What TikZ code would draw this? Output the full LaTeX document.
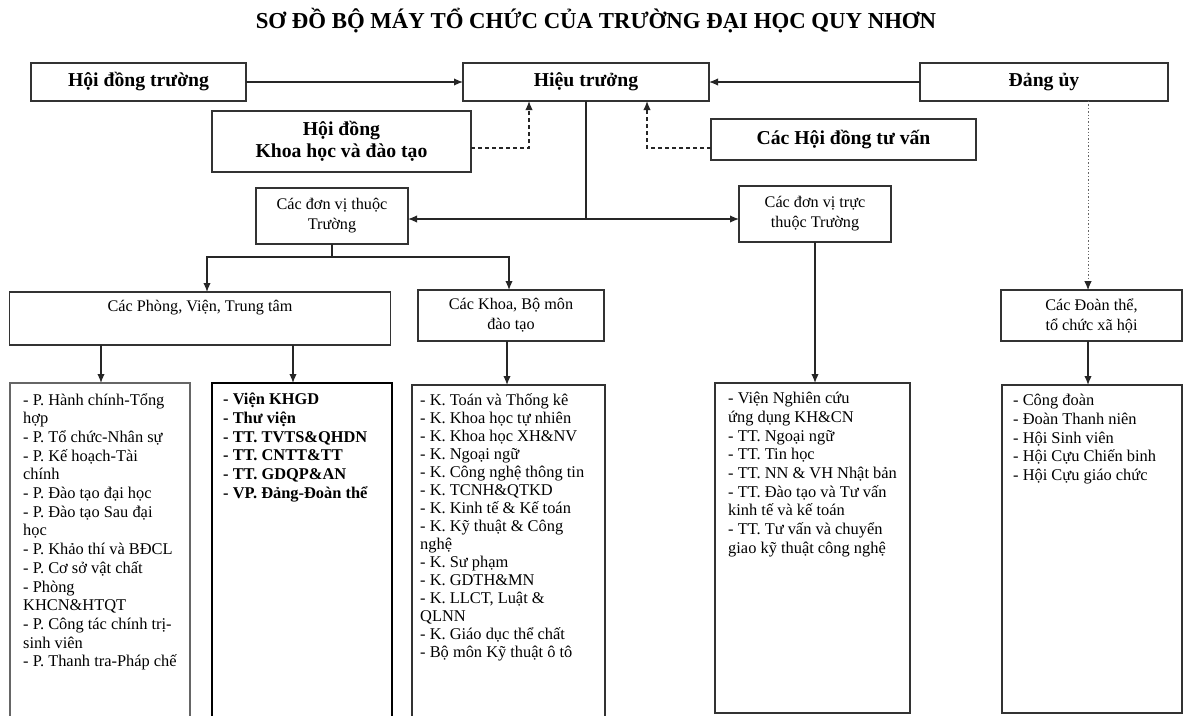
\documentclass[tikz,border=0pt]{standalone}
\usepackage{fontspec}
\setmainfont{Liberation Serif}
\usetikzlibrary{positioning, calc, arrows.meta}
\tikzstyle{Box} = [draw=black!80, line width=1.4pt, outer sep=0pt, inner sep=0pt,
align=center, font=\fontsize{16.2}{20}\selectfont]
\tikzstyle{Head} = [Box, font=\fontsize{19.7}{22}\selectfont\bfseries]
\tikzstyle{List} = [align=left, inner sep=0pt, font=\fontsize{16.4}{18.7}\selectfont]
\tikzstyle{Line} = [line width=1.4pt, color=black!85]
\tikzstyle{Arrow} = [
Line,
-{Latex[length=9pt,width=7.5pt]}]

\begin{document}
\begin{tikzpicture}[x=1pt, y=-1pt]
    \useasboundingbox (0,0) rectangle (1183,715);
    \node [font=\fontsize{22.8}{26}\selectfont\bfseries] (0) at (596,21)
        {SƠ ĐỒ BỘ MÁY TỔ CHỨC CỦA TRƯỜNG ĐẠI HỌC QUY NHƠN};

    \node [Head, minimum width=215pt, minimum height=38pt] (1) at (138.5,82) {Hội đồng trường};
    \node [Head, minimum width=246pt, minimum height=38pt] (2) at (586,82) {Hiệu trưởng};
    \node [Head, minimum width=248pt, minimum height=38pt] (3) at (1044,82) {Đảng ủy};
    \node [Head, minimum width=259pt, minimum height=61pt] (4) at (341.5,141.5) {Hội đồng\\Khoa học và đào tạo};
    \node [Head, minimum width=265pt, minimum height=41pt] (5) at (843.5,139.5) {Các Hội đồng tư vấn};
    \node [Box, minimum width=152pt, minimum height=56pt] (6) at (332,216) {Các đơn vị thuộc\\Trường};
    \node [Box, minimum width=152pt, minimum height=56pt] (7) at (815,214) {Các đơn vị trực\\thuộc Trường};
    \node [Box, minimum width=381pt, minimum height=53pt] (8) at (200,318.5) {Các Phòng, Viện, Trung tâm\\\strut};
    \node [Box, minimum width=186pt, minimum height=51pt] (9) at (511,315.5) {Các Khoa, Bộ môn\\đào tạo};
    \node [Box, minimum width=181pt, minimum height=51pt] (10) at (1091.5,315.5) {Các Đoàn thể,\\tổ chức xã hội};

    \node [Box, draw=black!60, anchor=north west, minimum width=180pt, minimum height=340pt] (11) at (10,383) {};
    \node [List, below right=10pt and 13pt of 11.north west] (11a) {- P. Hành chính-Tổng\\hợp\\- P. Tổ chức-Nhân sự\\- P. Kế hoạch-Tài\\chính\\- P. Đào tạo đại học\\- P. Đào tạo Sau đại\\học\\- P. Khảo thí và BĐCL\\- P. Cơ sở vật chất\\- Phòng\\KHCN\&HTQT\\- P. Công tác chính trị-\\sinh viên\\- P. Thanh tra-Pháp chế};
    \node [Box, draw=black, line width=2.4pt, anchor=north west, minimum width=180pt, minimum height=340pt] (12) at (212,383) {};
    \node [List, font=\fontsize{16.4}{18.7}\selectfont\bfseries, below right=10pt and 11pt of 12.north west] (12a) {- Viện KHGD\\- Thư viện\\- TT. TVTS\&QHDN\\- TT. CNTT\&TT\\- TT. GDQP\&AN\\- VP. Đảng-Đoàn thể};
    \node [Box, anchor=north west, minimum width=193pt, minimum height=340pt] (13) at (412,385) {};
    \node [List, font=\fontsize{16.4}{18}\selectfont, below right=8pt and 8pt of 13.north west] (13a) {- K. Toán và Thống kê\\- K. Khoa học tự nhiên\\- K. Khoa học XH\&NV\\- K. Ngoại ngữ\\- K. Công nghệ thông tin\\- K. TCNH\&QTKD\\- K. Kinh tế \& Kế toán\\- K. Kỹ thuật \& Công\\nghệ\\- K. Sư phạm\\- K. GDTH\&MN\\- K. LLCT, Luật \&\\QLNN\\- K. Giáo dục thể chất\\- Bộ môn Kỹ thuật ô tô};
    \node [Box, anchor=north west, minimum width=195pt, minimum height=330pt] (14) at (715,383) {};
    \node [List, below right=9pt and 13pt of 14.north west] (14a) {- Viện Nghiên cứu\\ứng dụng KH\&CN\\- TT. Ngoại ngữ\\- TT. Tin học\\- TT. NN \& VH Nhật bản\\- TT. Đào tạo và Tư vấn\\kinh tế và kế toán\\- TT. Tư vấn và chuyển\\giao kỹ thuật công nghệ};
    \node [Box, anchor=north west, minimum width=180pt, minimum height=328pt] (15) at (1002,385) {};
    \node [List, below right=9pt and 11pt of 15.north west] (15a) {- Công đoàn\\- Đoàn Thanh niên\\- Hội Sinh viên\\- Hội Cựu Chiến binh\\- Hội Cựu giáo chức};

    \coordinate (c) at (2.south |- 0,219);
    \coordinate (s) at (6.south |- 0,257);

    \draw[Arrow] (1.east) -- (2.west);
    \draw[Arrow] (3.west) -- (2.east);
    \draw[Arrow, dash pattern=on 4pt off 3pt] (4.east |- 0,148) -| (2.south -| 529,0);
    \draw[Arrow, dash pattern=on 4pt off 3pt] (5.west |- 0,148) -| (2.south -| 647,0);
    \draw[Line] (2.south) -- (c);
    \draw[Arrow] (c) -- (c -| 6.east);
    \draw[Arrow] (c) -- (c -| 7.west);
    \draw[Line] (6.south) -- (s);
    \draw[Arrow] (s) -| (8.north -| 207,0);
    \draw[Arrow] (s) -| (9.north -| 509,0);
    \draw[Arrow] (7.south) -- (7.south |- 14.north);
    \draw[Line, dotted, line width=0.8pt, color=black!60, -{Latex[length=9pt,width=7.5pt,color=black!85]}]
        (3.south -| 1088,0) -- (10.north -| 1088,0);
    \draw[Arrow] (10.south -| 1088,0) -- (15.north -| 1088,0);
    \draw[Arrow] (8.south -| 101,0) -- (11.north -| 101,0);
    \draw[Arrow] (8.south -| 293,0) -- (12.north -| 293,0);
    \draw[Arrow] (9.south -| 507,0) -- (13.north -| 507,0);
\end{tikzpicture}
\end{document}
